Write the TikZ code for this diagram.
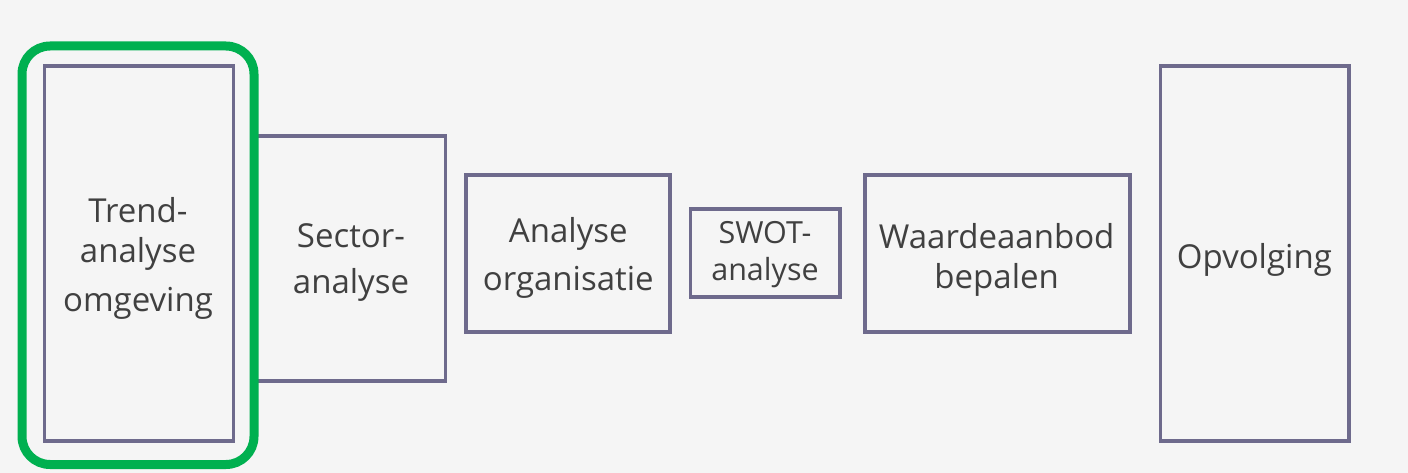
\documentclass[tikz,border=0pt]{standalone}
\usepackage{fontspec}
\setmainfont{Open Sans}
\definecolor{bg}{HTML}{F5F5F5}
\definecolor{boxc}{HTML}{6E6A8C}
\definecolor{grn}{HTML}{00B050}
\definecolor{txt}{HTML}{404040}
\tikzset{
  stage/.style={draw=boxc, line width=3.8pt, rectangle, inner sep=0pt},
  lbl/.style={text=txt, align=center, anchor=base, inner sep=0pt, font=\fontsize{33}{40}\selectfont},
  smalllbl/.style={lbl, font=\fontsize{30.5}{37}\selectfont},
  focus/.style={draw=grn, line width=9pt, rectangle, rounded corners=28pt, inner sep=0pt}
}
\begin{document}
\begin{tikzpicture}[x=1pt,y=-1pt]
\fill[bg] (0,0) rectangle (1408,473);
\useasboundingbox (0,0) rectangle (1408,473);
% boxes
\node[stage, minimum width=191.5pt, minimum height=245pt] (sector) at (349.7,258.4) {};
\node[stage, minimum width=189pt, minimum height=375.3pt] (trend) at (139,253.7) {};
\node[stage, minimum width=204.5pt, minimum height=157.3pt] (analyse) at (568,253.7) {};
\node[stage, minimum width=149.8pt, minimum height=88.2pt] (swot) at (765.4,252.9) {};
\node[stage, minimum width=265.3pt, minimum height=157.5pt] (waarde) at (997.7,253.5) {};
\node[stage, minimum width=188.8pt, minimum height=375.5pt] (opvolging) at (1254.9,253.5) {};
% highlight
\node[focus, minimum width=232pt, minimum height=418.5pt] (focusbox) at (138,255.25) {};
% labels (anchor=base is the baseline of the last line)
\node[lbl] (trendtext) at (138,311) {Trend-\\analyse\\[8.7pt]omgeving};
\node[lbl] (sectortext) at (351,293.3) {Sector-\\[6pt]analyse};
\node[lbl] (analysetext) at (568.3,290.7) {Analyse\\[8pt]organisatie};
\node[smalllbl] (swottext) at (765,280) {SWOT-\\analyse};
\node[lbl] (waardetext) at (996.7,288.3) {Waardeaanbod\\bepalen};
\node[lbl] (opvolgingtext) at (1254.4,268.3) {Opvolging};
\end{tikzpicture}
\end{document}
